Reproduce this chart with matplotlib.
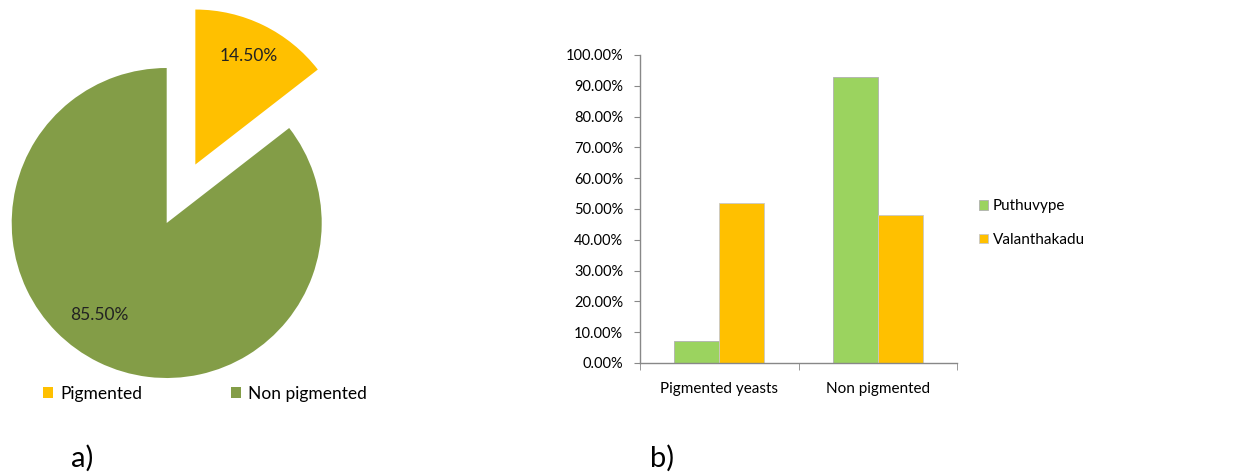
import matplotlib
matplotlib.use("Agg")
import matplotlib.pyplot as plt
import numpy as np
from matplotlib.patches import Patch
from matplotlib.ticker import FuncFormatter

plt.rcParams['font.family'] = ['Lato', 'DejaVu Sans']

# data
pie_labels = ["Pigmented", "Non pigmented"]
pie_values = [14.5, 85.5]
pie_colors = ["#FFC000", "#839D47"]

bar_categories = ["Pigmented yeasts", "Non pigmented"]
bar_series = ["Puthuvype", "Valanthakadu"]
puthuvype = [0.072, 0.928]
valanthakadu = [0.518, 0.482]
bar_colors = ["#9BD35F", "#FFC000"]

W, H = 1240, 472
fig = plt.figure(figsize=(W / 100, H / 100), dpi=100)

# ---------- pie ----------
R = 155.0
cx, cy = 166.7, H - 223
axp = fig.add_axes([0, 0, 400 / W, 1])
wedges, texts, autotexts = axp.pie(
    pie_values, colors=pie_colors, startangle=90, counterclock=False,
    explode=[0.42, 0], radius=1, autopct=lambda p: f"{p:.2f}%",
    pctdistance=0.6, textprops=dict(fontsize=12.5, color="#222222"))
axp.set_aspect('auto')
axp.set_xlim(-cx / R, (400 - cx) / R)
axp.set_ylim(-cy / R, (H - cy) / R)
axp.axis('off')
autotexts[0].set_position(((249 - cx) / R, (H - 56 - cy) / R))
autotexts[1].set_position(((99 - cx) / R, (H - 315 - cy) / R))
for t in autotexts:
    t.set_ha('center'); t.set_va('center')

axp.legend(handles=[Patch(facecolor=c, edgecolor='none') for c in pie_colors],
           labels=pie_labels, loc='center left', ncol=2,
           bbox_to_anchor=(43 / W, (H - 394) / H), bbox_transform=fig.transFigure,
           frameon=False, fontsize=12.5, handlelength=0.6, handleheight=0.6,
           handletextpad=0.4, columnspacing=5.1, borderaxespad=0, borderpad=0)

fig.text(82 / W, (H - 458) / H, "a)", fontsize=21, ha='center', va='center')

# ---------- bars ----------
x0, x1 = 640, 957
yb, yt = H - 363, H - 55
axb = fig.add_axes([x0 / W, yb / H, (x1 - x0) / W, (yt - yb) / H])
x = np.arange(len(bar_categories))
w = 0.284
axb.bar(x - w / 2, puthuvype, w, color=bar_colors[0], edgecolor='#B0B0B0', linewidth=0.6, label=bar_series[0])
axb.bar(x + w / 2, valanthakadu, w, color=bar_colors[1], edgecolor='#C8C8C8', linewidth=0.6, label=bar_series[1])
axb.set_xlim(-0.5, 1.5)
axb.set_ylim(0, 1.0)
axb.set_yticks(np.arange(0, 1.01, 0.1))
axb.yaxis.set_major_formatter(FuncFormatter(lambda v, p: f"{v * 100:.2f}%"))
axb.set_xticks(x)
axb.set_xticklabels(bar_categories)
axb.set_xticks([-0.5, 0.5, 1.5], minor=True)
axb.tick_params(axis='x', which='major', length=0, pad=14, labelsize=11)
axb.tick_params(axis='x', which='minor', length=5, color='#888888', direction='out')
axb.tick_params(axis='y', length=4, color='#888888', pad=8, labelsize=10.5)
for s in ['top', 'right']:
    axb.spines[s].set_visible(False)
for s in ['left', 'bottom']:
    axb.spines[s].set_color('#888888')
    axb.spines[s].set_linewidth(1)

axb.legend(loc='center left', bbox_to_anchor=(979 / W, (H - 223) / H),
           bbox_transform=fig.transFigure, frameon=False, fontsize=11,
           handlelength=0.6, handleheight=0.6, handletextpad=0.3,
           labelspacing=1.3, borderaxespad=0, borderpad=0)

fig.text(662 / W, (H - 458) / H, "b)", fontsize=21, ha='center', va='center')

fig.savefig("out.png", dpi=100)
